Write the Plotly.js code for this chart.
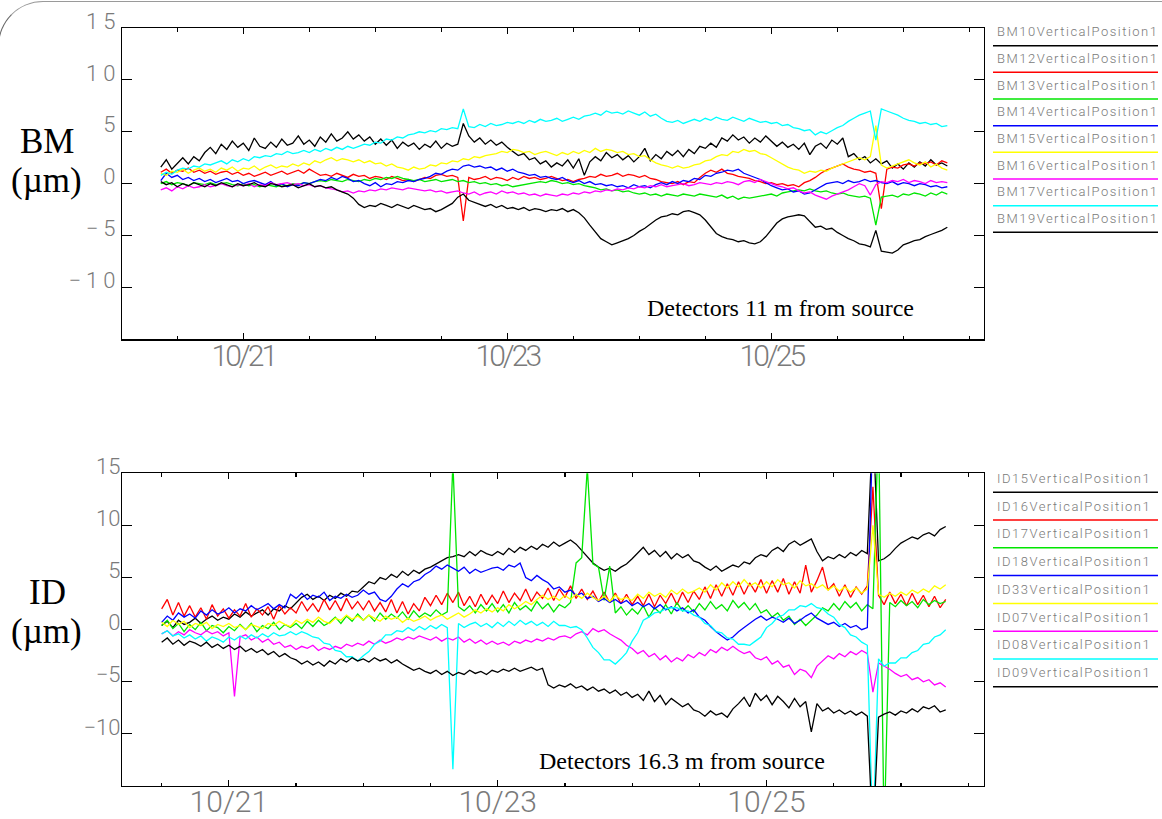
<!DOCTYPE html>
<html>
<head>
<meta charset="utf-8">
<script src="https://cdn.plot.ly/plotly-3.0.1.min.js"></script>
<style>
html,body{margin:0;padding:0;background:#fff;overflow:hidden;}
#chart{position:absolute;left:0;top:0;width:1162px;height:819px;}
#frame{position:absolute;left:-2px;top:1px;width:1400px;height:1200px;box-sizing:border-box;
  border-top:1.5px solid #9a9a9a;border-left:1.5px solid #666;border-top-left-radius:45px;pointer-events:none;}
.xtick text{letter-spacing:-3px;}
.ytick text{letter-spacing:5px;}
.annotation-text[style*="Roboto"]{letter-spacing:1.5px;fill:#7a7a7a !important;}
</style>
</head>
<body>
<div id="chart"></div>
<div id="frame"></div>
<script>
// ---------- sampling (hourly readings) ----------
const topStartUTC = Date.UTC(2023, 9, 20, 9, 0);   // 10/20 09:00
const botStartUTC = Date.UTC(2023, 9, 20, 12, 0);  // 10/20 12:00
const sampleStepMs = 3600000;

// ---------- upper panel: BM detectors (µm) ----------
const topNames = ['BM10VerticalPosition1','BM12VerticalPosition1','BM13VerticalPosition1','BM14VerticalPosition1',
                  'BM15VerticalPosition1','BM16VerticalPosition1','BM17VerticalPosition1','BM19VerticalPosition1'];
const topColors = ['#000000','#ff0000','#00e600','#0000ff','#ffff00','#ff00ff','#00ffff','#000000'];

const bm10 = [1.6,2.3,1.4,2.0,2.5,1.9,2.6,2.2,3.0,3.5,2.9,3.8,
 3.3,4.1,3.5,3.9,3.2,4.4,3.6,3.4,4.0,3.5,4.3,3.7,
 3.9,4.6,3.8,4.2,3.6,4.5,4.0,4.8,4.1,4.4,5.0,4.3,
 4.7,4.1,4.5,3.8,4.3,3.7,4.2,3.4,4.0,3.6,3.9,3.3,
 3.8,3.5,4.1,3.4,3.9,3.6,3.8,5.8,4.6,4.0,4.4,3.8,
 4.2,3.7,4.0,3.5,3.1,2.7,2.9,2.3,2.5,1.9,2.2,1.6,
 2.0,1.7,2.3,1.5,2.4,0.8,2.1,2.6,2.2,3.0,2.5,2.8,
 2.3,2.7,2.1,2.6,3.4,2.2,2.8,2.4,3.1,2.7,3.2,2.6,
 3.3,2.9,3.6,3.4,3.9,3.5,4.4,4.1,4.7,4.2,4.5,3.9,
 4.4,4.0,4.6,4.1,3.6,4.0,3.5,3.8,3.3,3.9,2.8,3.6,
 3.9,3.4,4.2,3.8,4.4,2.6,2.9,2.3,2.6,2.0,2.4,1.9,
 2.2,1.5,1.9,1.4,2.0,1.6,2.1,1.7,2.3,1.8,2.0,1.7];
const bm12 = [1.1,1.4,1.0,1.3,1.2,1.5,1.1,1.3,1.0,1.2,0.9,1.1,
 1.2,0.9,1.1,0.8,1.0,0.7,0.9,1.1,0.8,1.0,1.2,0.9,
 1.1,1.3,1.0,1.4,1.1,0.8,0.9,0.7,1.0,0.8,0.6,0.9,
 0.7,0.8,0.5,0.7,0.6,0.4,0.7,0.5,0.3,0.4,0.2,0.4,
 0.6,0.5,0.8,0.9,0.7,0.8,0.6,-3.6,0.6,0.4,0.5,0.7,
 0.4,0.6,0.5,0.3,0.6,0.4,0.7,0.5,0.6,0.4,0.5,0.7,
 0.5,0.3,0.4,0.2,0.4,0.5,0.7,0.6,0.9,0.7,0.8,1.0,
 0.7,0.9,0.8,0.6,0.8,0.5,0.4,0.2,0.1,0.0,0.2,-0.1,
 0.2,0.1,0.6,1.0,1.3,1.1,1.4,1.0,0.9,0.7,0.6,0.5,
 0.3,0.2,0.0,0.1,-0.1,0.0,-0.2,-0.1,-0.3,0.1,0.3,0.6,
 1.0,1.3,1.5,1.7,1.9,1.6,1.4,1.3,1.1,1.2,1.0,-2.4,
 1.4,1.6,1.5,1.8,1.9,1.7,2.0,1.9,2.1,1.8,2.2,2.0];
const bm13 = [0.0,0.2,-0.1,0.1,0.0,-0.2,0.1,0.0,-0.1,0.1,-0.1,0.0,
 0.1,-0.1,-0.2,0.0,-0.2,-0.1,-0.3,-0.1,-0.2,-0.3,-0.1,-0.2,
 0.0,-0.1,0.1,0.0,0.2,0.3,0.2,0.4,0.3,0.2,0.4,0.3,
 0.2,0.4,0.3,0.5,0.4,0.6,0.5,0.7,0.5,0.4,0.3,0.4,
 0.2,0.3,0.4,0.2,0.3,0.4,0.2,0.3,0.1,0.2,0.0,0.1,
 -0.1,0.0,-0.2,-0.1,-0.3,-0.2,-0.1,0.0,0.1,0.2,0.1,0.3,
 0.2,0.0,0.1,-0.1,0.0,-0.2,-0.3,-0.4,-0.6,-0.5,-0.7,-0.6,
 -0.8,-0.7,-0.9,-1.0,-0.9,-1.1,-1.0,-1.2,-1.0,-1.1,-1.2,-1.0,
 -1.1,-1.2,-1.0,-1.1,-1.2,-1.3,-1.1,-1.4,-1.2,-1.5,-1.3,-1.4,
 -1.3,-1.2,-1.1,-1.0,-1.2,-0.9,-0.8,-0.7,-0.6,-0.7,-0.5,-0.7,
 -0.8,-0.7,-0.9,-1.0,-0.9,-1.1,-1.2,-1.3,-1.2,-1.4,-4.0,-1.3,
 -1.2,-1.1,-1.3,-1.0,-1.1,-0.9,-1.0,-1.2,-0.9,-1.1,-0.8,-1.0];
const bm14 = [0.3,1.0,0.6,0.8,0.4,0.6,0.3,0.5,0.2,0.4,0.1,0.3,
 0.5,0.2,0.3,0.0,0.2,0.3,0.1,-0.1,0.2,-0.2,0.0,-0.3,
 -0.1,-0.2,0.1,0.0,0.2,0.4,0.3,0.6,0.4,0.7,0.5,0.2,
 0.3,0.0,-0.2,0.1,-0.3,0.0,-0.1,0.2,0.1,0.3,0.2,0.4,
 0.5,0.7,1.0,0.9,1.2,1.4,1.3,1.7,1.8,1.6,1.7,1.5,
 1.6,1.3,1.5,1.2,1.4,1.1,1.0,0.8,0.9,0.6,0.7,0.5,
 0.4,0.6,0.3,0.1,0.3,0.0,0.2,-0.1,0.0,-0.2,-0.1,-0.3,
 -0.2,-0.4,-0.1,-0.3,-0.2,-0.4,-0.1,0.1,-0.1,0.2,0.0,0.3,
 0.2,0.5,0.4,0.8,0.7,1.0,1.1,1.3,1.2,1.4,1.0,0.8,
 0.6,0.4,0.1,-0.2,-0.4,-0.6,-0.5,-0.8,-0.7,-1.0,-0.9,-0.6,
 -0.3,0.0,0.1,0.2,0.0,0.3,0.1,0.2,0.4,0.2,0.3,0.1,
 0.0,0.2,-0.1,0.1,0.0,-0.2,0.0,-0.1,-0.3,-0.2,-0.4,-0.3];
const bm15 = [1.0,0.8,1.2,1.1,1.4,1.0,1.3,1.5,1.2,1.4,1.1,1.5,
 1.3,1.6,1.2,1.5,1.4,1.7,1.3,1.6,1.8,1.5,1.7,1.6,
 1.9,1.7,2.0,1.8,2.2,2.0,2.3,2.5,2.2,2.4,2.3,2.1,
 2.3,2.0,2.2,1.9,2.0,1.7,1.9,1.6,1.5,1.3,1.6,1.4,
 1.5,1.8,1.7,2.0,1.9,2.2,2.1,2.4,2.3,2.6,2.5,2.7,
 2.8,2.9,3.1,3.0,3.3,3.2,3.0,3.1,2.8,3.0,3.1,2.9,
 2.7,3.0,2.8,3.1,2.9,3.2,3.0,3.4,3.1,3.3,3.2,3.0,
 3.1,2.8,2.9,2.6,2.7,2.3,2.0,1.8,1.7,1.5,1.7,1.5,
 1.6,1.8,1.9,2.2,2.3,2.6,2.8,2.7,3.1,3.0,3.3,3.1,
 3.2,2.9,2.8,2.5,2.2,1.9,1.6,1.4,1.3,1.0,1.2,1.1,
 1.3,1.2,1.5,1.7,1.9,2.1,2.3,2.5,2.3,2.6,5.6,1.8,
 1.5,1.7,1.9,2.1,2.3,2.0,1.8,2.1,1.6,1.9,1.5,1.3];
const bm16 = [-0.6,-0.4,-0.7,-0.3,-0.5,-0.2,-0.4,-0.3,-0.1,-0.3,-0.2,0.0,
 -0.2,-0.3,-0.1,-0.2,0.0,-0.3,-0.1,-0.2,0.1,-0.1,0.0,0.1,
 -0.1,0.0,-0.2,-0.1,-0.3,-0.2,-0.4,-0.5,-0.6,-0.8,-0.7,-0.9,
 -0.7,-0.8,-0.6,-0.7,-0.5,-0.6,-0.4,-0.5,-0.6,-0.4,-0.5,-0.6,
 -0.7,-0.6,-0.8,-0.7,-0.9,-0.8,-0.7,-0.9,-1.0,-0.8,-1.1,-0.9,
 -0.8,-1.0,-0.7,-0.9,-0.8,-1.0,-0.9,-1.1,-1.0,-1.2,-1.0,-1.1,
 -1.2,-1.0,-1.1,-0.9,-1.0,-0.8,-0.9,-0.7,-0.8,-0.6,-0.7,-0.5,
 -0.6,-0.4,-0.5,-0.3,-0.4,-0.2,-0.3,-0.1,-0.3,-0.2,-0.1,0.0,
 -0.2,-0.1,0.1,0.0,-0.1,0.1,0.0,0.2,0.1,-0.1,0.2,0.3,
 0.1,0.4,0.2,0.0,-0.2,-0.3,-0.5,-0.4,-0.7,-0.9,-0.8,-1.1,
 -1.3,-1.5,-1.2,-1.0,-0.8,-0.6,-0.3,0.0,-0.2,-1.1,-0.1,0.2,
 0.1,0.3,0.2,0.4,0.1,0.3,0.2,0.0,0.3,0.1,0.2,0.1];
const bm17 = [0.8,1.1,0.9,1.3,1.5,1.4,1.7,1.6,1.9,1.8,2.0,2.2,
 1.9,2.3,2.1,2.4,2.2,2.6,2.5,2.7,2.6,2.9,2.8,3.1,
 2.9,3.0,3.2,3.0,3.3,3.1,3.4,3.2,3.5,3.3,3.6,3.4,
 3.6,3.8,3.7,4.0,3.9,4.3,4.2,4.5,4.4,4.7,4.8,5.0,
 4.9,5.1,5.0,5.3,5.2,5.4,5.3,7.2,5.5,5.4,5.7,5.5,
 5.8,5.6,5.7,5.9,5.8,6.0,5.8,6.1,5.9,6.2,6.0,6.1,
 6.3,6.0,6.2,6.4,6.2,6.5,6.6,6.8,6.6,7.0,6.8,6.9,
 6.7,7.0,6.8,6.6,6.9,6.5,6.7,6.3,6.0,5.9,6.1,5.8,
 6.0,6.2,6.0,6.3,6.1,6.4,6.2,6.1,6.4,6.2,6.0,6.3,
 6.1,5.9,6.0,5.8,5.9,5.6,5.7,5.4,5.3,5.1,5.2,4.7,
 5.0,4.8,5.1,5.4,5.6,6.0,6.3,6.6,6.8,7.0,4.2,7.2,
 7.0,6.8,6.6,6.3,6.1,6.0,5.8,5.9,5.7,5.8,5.5,5.6];
const bm19 = [0.2,-0.1,0.1,-0.3,0.0,-0.2,0.1,-0.1,-0.3,0.0,-0.2,0.1,
 -0.1,-0.3,0.0,-0.2,-0.1,0.1,-0.2,-0.3,0.0,-0.1,-0.3,-0.2,
 -0.1,-0.4,-0.2,0.0,-0.3,-0.2,-0.4,-0.3,-0.6,-0.8,-1.0,-1.4,
 -2.0,-2.3,-2.1,-2.2,-1.9,-2.1,-2.3,-2.0,-2.2,-2.4,-2.1,-2.3,
 -2.5,-2.4,-2.7,-2.5,-2.2,-1.9,-1.3,-1.0,-1.6,-1.8,-2.0,-2.2,
 -2.0,-2.3,-2.1,-2.4,-2.3,-2.5,-2.3,-2.6,-2.4,-2.5,-2.7,-2.5,
 -2.6,-2.4,-2.7,-2.5,-2.8,-3.3,-4.0,-4.7,-5.3,-5.6,-5.9,-5.7,
 -5.5,-5.3,-5.0,-4.6,-4.3,-3.9,-3.5,-3.2,-3.1,-2.9,-3.0,-2.7,
 -2.6,-2.8,-3.0,-3.5,-4.2,-4.8,-5.1,-5.3,-5.4,-5.6,-5.5,-5.7,
 -5.8,-5.6,-5.1,-4.4,-3.8,-3.4,-3.2,-3.1,-3.0,-3.1,-3.7,-4.2,
 -4.1,-4.4,-4.3,-4.7,-5.0,-5.3,-5.5,-5.8,-5.9,-6.1,-4.5,-6.5,
 -6.6,-6.7,-6.4,-5.9,-5.7,-5.5,-5.4,-5.1,-4.9,-4.7,-4.5,-4.2];
const topSeries = [bm10, bm12, bm13, bm14, bm15, bm16, bm17, bm19];

// ---------- lower panel: ID detectors (µm) ----------
const botNames = ['ID15VerticalPosition1','ID16VerticalPosition1','ID17VerticalPosition1','ID18VerticalPosition1',
                  'ID33VerticalPosition1','ID07VerticalPosition1','ID08VerticalPosition1','ID09VerticalPosition1'];
const botColors = ['#000000','#ff0000','#00e600','#0000ff','#ffff00','#ff00ff','#00ffff','#000000'];

const id15 = [0.4,0.8,0.2,0.9,0.5,0.7,1.1,0.6,1.0,1.3,0.9,1.2,
 1.0,1.5,1.2,1.7,1.3,1.6,1.9,1.4,2.0,1.8,2.3,2.0,
 2.6,3.1,3.4,2.9,3.2,2.8,3.3,3.0,3.5,3.2,3.7,3.6,
 4.1,4.6,4.4,5.0,4.8,5.3,5.0,5.6,5.2,5.7,5.4,5.8,
 6.0,6.3,6.6,6.9,7.0,7.2,7.0,7.5,7.1,7.6,7.3,7.1,
 7.5,7.2,7.8,7.4,7.9,7.6,8.0,7.7,8.2,7.9,8.4,8.0,
 8.3,8.6,8.2,7.6,7.0,6.4,6.0,5.7,5.9,5.6,6.0,6.3,
 6.8,7.4,7.9,7.2,7.6,7.0,7.5,6.8,7.3,6.9,7.2,6.6,
 6.4,6.0,5.7,6.1,5.6,5.9,6.2,6.0,6.5,6.3,6.9,7.2,
 7.0,7.6,7.9,7.5,8.2,8.5,8.1,8.4,8.7,7.5,6.6,7.0,
 6.8,7.2,6.9,7.4,7.1,7.6,7.3,20,6.6,6.8,7.2,7.8,
 8.3,8.6,8.9,8.7,9.1,9.3,9.0,9.6,9.9];
const id16 = [2.0,2.9,1.4,2.6,1.3,2.3,1.2,2.1,1.0,2.4,1.3,2.0,
 1.1,1.9,1.3,2.5,1.2,2.0,1.4,2.2,1.0,2.3,1.5,2.1,
 1.6,2.7,1.8,2.5,1.7,2.9,1.9,2.8,1.8,3.0,2.0,2.7,
 1.9,2.8,1.8,2.6,1.7,2.9,1.6,2.7,1.5,2.5,1.8,3.1,
 2.3,3.3,2.4,3.5,2.6,3.6,2.3,3.2,2.2,3.4,2.4,3.3,
 2.5,3.7,2.6,3.5,2.8,3.9,2.7,3.6,3.0,4.0,2.8,3.9,
 3.1,4.2,3.0,3.9,2.9,3.7,2.7,3.6,2.6,3.5,2.5,3.4,
 2.4,3.2,2.3,3.4,2.2,3.3,2.5,3.5,2.4,3.6,2.6,3.7,
 2.9,4.1,3.0,4.3,3.2,4.4,3.3,4.6,3.4,4.5,3.6,4.8,
 3.5,4.7,3.6,4.9,3.4,4.6,3.5,6.2,3.6,4.7,6.0,3.8,
 4.4,3.2,4.3,3.1,4.1,3.4,4.2,13.7,3.3,2.4,3.6,2.5,
 3.4,2.3,3.5,2.4,3.3,2.2,3.2,2.1,2.9];
const id17 = [0.4,0.9,0.1,0.6,-0.2,0.5,0.0,0.7,-0.1,0.4,0.2,-0.3,
 0.3,-0.1,0.5,0.0,0.6,-0.2,0.4,0.1,0.7,0.0,0.5,0.2,
 0.6,0.1,0.8,0.3,0.9,0.4,0.7,1.2,0.6,1.3,0.8,1.5,
 0.9,1.4,0.8,1.6,1.0,1.5,1.1,1.7,1.0,1.8,1.2,1.6,
 1.3,1.9,1.4,1.7,16.0,2.2,1.8,2.3,1.6,2.4,1.8,2.5,
 1.7,2.4,1.6,2.6,1.9,2.3,1.8,2.7,2.0,2.5,1.7,2.4,
 2.1,2.6,6.4,6.9,15.5,6.3,6.0,2.8,6.1,1.6,2.2,1.4,
 2.0,1.5,2.3,1.2,2.1,1.6,2.4,1.5,2.6,1.8,2.3,1.7,
 2.5,1.9,2.7,2.0,2.4,1.8,2.8,2.1,2.6,1.9,2.5,1.6,
 1.9,1.2,1.6,0.9,1.3,0.5,1.0,0.4,0.9,1.4,2.1,1.8,
 2.5,1.9,2.7,2.1,2.6,1.8,2.4,2.0,20,-20,2.6,2.2,
 2.8,2.3,2.7,2.1,2.9,2.4,2.8,2.5,2.7];
const id18 = [0.7,1.3,0.9,1.6,1.2,1.5,1.1,1.8,1.4,1.9,1.5,1.7,
 2.1,1.6,2.0,1.8,2.3,1.9,2.2,2.5,2.0,2.4,2.1,3.4,
 3.0,3.5,2.9,3.3,3.1,3.6,2.8,3.2,3.0,3.4,3.1,3.3,
 3.8,3.4,3.6,2.9,2.7,3.2,3.9,4.4,4.1,4.6,4.8,5.3,
 5.6,6.1,5.8,6.2,5.9,5.6,6.0,5.4,5.8,5.5,5.7,5.9,
 6.0,5.7,6.2,6.0,6.4,5.0,4.7,5.2,4.8,4.5,3.9,4.1,
 3.6,3.8,3.3,3.5,3.0,3.2,2.7,3.0,2.6,2.9,2.5,2.8,
 2.3,2.6,2.2,2.5,2.0,2.4,1.9,2.2,1.8,2.1,1.6,1.9,
 1.2,0.9,0.3,-0.2,-0.6,-1.0,-0.7,-0.2,0.2,0.6,1.0,1.3,
 0.9,1.2,1.0,0.7,1.1,0.6,0.9,1.3,1.6,1.1,0.8,0.5,
 0.7,0.3,0.6,0.2,0.4,0.0,0.2,20];
const id33 = [0.7,0.3,0.9,0.5,0.8,0.2,0.6,0.4,0.7,0.1,0.5,0.3,
 0.6,0.2,0.4,0.0,0.5,0.3,0.1,0.6,0.4,0.8,0.5,0.3,
 0.9,0.6,1.0,0.7,1.2,0.8,0.6,1.1,0.9,1.4,1.0,1.3,
 0.9,1.4,1.1,0.8,1.3,1.0,1.2,0.7,1.1,0.8,1.0,1.3,
 0.9,1.2,1.4,1.0,1.3,1.6,1.2,1.5,1.9,1.6,2.0,1.7,
 2.1,1.8,2.4,2.0,2.3,2.7,2.4,2.9,3.3,2.9,3.2,2.8,
 3.3,2.9,3.4,3.0,3.5,3.1,2.8,3.2,2.7,3.3,2.9,3.1,
 2.8,3.4,3.0,3.6,3.2,3.5,3.1,3.8,3.4,3.9,3.5,3.7,
 4.0,3.6,4.3,3.8,4.5,4.0,4.6,4.1,4.8,4.2,4.5,4.0,
 4.6,4.1,4.8,4.3,4.5,4.0,4.7,4.2,4.4,4.0,4.3,3.8,
 4.2,3.7,4.1,3.6,4.0,3.5,3.9,10.0,3.4,3.1,3.5,3.2,
 3.6,3.3,3.8,3.5,3.9,3.6,4.2,3.9,4.3];
const id07 = [-0.4,-0.1,-0.6,-0.2,-0.5,0.0,-0.3,-0.5,-0.1,-0.4,-0.2,-0.6,
 -0.3,-6.4,-0.7,-0.5,-1.0,-0.7,-1.2,-0.9,-1.4,-1.2,-1.7,-1.5,
 -1.9,-1.6,-1.8,-1.5,-2.0,-1.7,-1.9,-1.6,-1.8,-1.4,-1.6,-1.3,
 -1.5,-1.1,-1.4,-1.0,-1.3,-1.1,-0.8,-1.0,-0.7,-0.9,-0.6,-0.8,
 -1.0,-0.7,-1.1,-0.8,-1.0,-0.7,-1.2,-0.9,-1.3,-1.0,-1.4,-1.1,
 -1.4,-1.2,-1.5,-1.1,-1.3,-1.0,-1.2,-0.9,-1.1,-0.8,-1.0,-0.7,
 -0.6,-0.8,-0.4,-0.2,-0.5,0.1,-0.2,0.0,-0.4,-0.7,-1.0,-1.5,
 -1.8,-2.3,-2.0,-2.6,-2.3,-2.9,-2.5,-3.1,-2.7,-3.0,-2.4,-2.7,
 -2.2,-2.5,-1.9,-2.2,-1.7,-2.0,-1.6,-2.0,-2.3,-2.1,-2.7,-2.9,
 -2.6,-3.3,-3.0,-3.6,-3.4,-4.3,-3.8,-4.0,-4.6,-3.5,-3.0,-2.5,
 -2.8,-2.3,-2.6,-2.1,-2.4,-2.0,-2.3,-6.0,-3.2,-3.5,-3.8,-4.2,
 -4.5,-4.3,-4.8,-4.6,-5.0,-4.8,-5.3,-5.1,-5.5];
const id08 = [-0.4,-0.1,-0.6,-0.4,-0.8,-0.5,-0.9,-0.6,-1.1,-0.7,-0.9,-1.2,
 -0.7,-1.0,-0.6,-0.9,-0.5,-0.8,-0.4,-0.7,-0.3,-0.6,-0.5,-0.2,
 -0.5,-0.2,-0.4,-0.7,-0.8,-1.3,-1.4,-2.0,-2.1,-2.6,-2.6,-3.0,
 -2.5,-2.1,-1.4,-1.1,-0.5,-0.5,-0.1,-0.2,0.2,-0.1,0.3,0.0,
 0.4,0.1,0.5,0.2,-13.4,0.6,0.2,0.5,0.7,0.3,0.6,0.2,
 0.7,0.3,0.8,0.4,0.9,0.5,0.8,0.4,0.7,0.3,0.8,0.4,
 0.4,0.2,0.3,0.0,-0.8,-1.7,-2.2,-2.9,-2.9,-3.3,-2.8,-2.2,
 -1.1,-0.3,0.9,1.2,1.6,1.7,2.0,2.1,2.1,1.8,1.8,1.4,
 1.2,0.6,0.4,-0.2,-0.3,-0.8,-0.9,-1.4,-1.4,-1.5,-1.1,-0.7,
 0.2,0.6,1.2,1.4,1.9,1.9,2.3,2.2,2.5,2.1,2.0,1.5,
 1.2,0.5,0.2,-0.5,-0.7,-1.2,-1.5,-20,-2.8,-3.5,-3.2,-3.2,
 -2.7,-2.7,-2.2,-2.0,-1.4,-1.3,-0.7,-0.5,0.0];
const id09 = [-1.2,-0.8,-1.4,-1.0,-1.5,-1.1,-1.3,-1.6,-1.2,-1.7,-1.4,-1.8,
 -1.5,-1.9,-1.6,-2.1,-1.8,-2.2,-1.9,-2.4,-2.1,-2.6,-2.3,-2.7,
 -2.9,-3.3,-3.0,-3.4,-3.1,-3.5,-3.0,-3.3,-2.8,-3.1,-2.7,-3.0,
 -2.8,-3.1,-2.7,-3.0,-2.8,-3.2,-2.9,-3.3,-3.6,-3.9,-3.7,-4.0,
 -4.2,-3.9,-4.3,-4.0,-4.4,-4.1,-4.3,-3.9,-4.2,-4.0,-4.3,-3.9,
 -4.1,-3.8,-4.0,-3.7,-4.0,-3.8,-3.6,-3.9,-3.7,-5.3,-5.6,-5.3,
 -5.5,-5.2,-5.6,-5.4,-5.8,-5.5,-5.9,-5.7,-6.1,-5.8,-6.3,-6.0,
 -6.5,-6.2,-6.8,-5.9,-6.9,-6.3,-7.2,-6.6,-7.0,-7.4,-7.1,-7.7,
 -7.9,-8.3,-7.8,-8.2,-8.0,-8.4,-7.6,-7.1,-6.5,-7.4,-6.1,-6.8,
 -6.3,-7.2,-6.4,-6.9,-7.5,-6.6,-7.4,-6.9,-9.8,-7.1,-7.8,-7.5,
 -8.0,-7.7,-8.1,-7.8,-8.2,-7.9,-8.3,-20,-8.4,-8.1,-7.9,-8.2,
 -7.8,-8.0,-7.6,-7.9,-7.4,-7.6,-7.3,-7.9,-7.7];
const botSeries = [id15, id16, id17, id18, id33, id07, id08, id09];

// ---------- axes / labels ----------
const yTickVals = [-10, -5, 0, 5, 10, 15];
const topTitle = ['BM', '(µm)'];
const botTitle = ['ID', '(µm)'];
const topNote = 'Detectors 11 m from source';
const botNote = 'Detectors 16.3 m from source';
const topXRange = ['2023-10-20 01:57', '2023-10-26 14:40'];
const botXRange = ['2023-10-20 04:55', '2023-10-26 14:50'];

// ---------- build ----------
function timeAxis(startUTC, n) {
  const out = [];
  for (let i = 0; i < n; i++) out.push(new Date(startUTC + i * sampleStepMs).toISOString().slice(0, 19).replace('T', ' '));
  return out;
}
const traces = [];
topSeries.forEach((s, k) => traces.push({type: 'scatter', mode: 'lines', x: timeAxis(topStartUTC, s.length), y: s,
  name: topNames[k], line: {color: topColors[k], width: 1.3}, xaxis: 'x', yaxis: 'y'}));
botSeries.forEach((s, k) => traces.push({type: 'scatter', mode: 'lines', x: timeAxis(botStartUTC, s.length), y: s,
  name: botNames[k], line: {color: botColors[k], width: 1.3}, xaxis: 'x2', yaxis: 'y2'}));

const M = {l: 122, r: 178, t: 28, b: 33};
const W = 1162 - M.l - M.r, H = 819 - M.t - M.b;
const px = x => (x - M.l) / W;
const py = y => (819 - M.b - y) / H;

const tickFontX = {family: 'Roboto, "Open Sans", sans-serif', size: 30, color: '#7a7a7a', weight: 300};
const tickFontY = {family: 'Roboto, "Open Sans", sans-serif', size: 22, color: '#7a7a7a', weight: 300};
const xCommon = {type: 'date', showline: true, linecolor: '#000', linewidth: 1.2, mirror: 'ticks', showgrid: false,
  zeroline: false, ticks: 'inside', ticklen: 6, tickwidth: 1.2, tickcolor: '#000', tick0: '2023-10-21',
  dtick: 172800000, tickformat: '%m/%d', tickfont: tickFontX, ticklabelstandoff: -11,
  minor: {ticks: 'inside', dtick: 43200000, ticklen: 3.5, tickwidth: 1.2, tickcolor: '#000', showgrid: false}};
const yCommon = {showline: true, linecolor: '#000', linewidth: 1.2, mirror: 'ticks', showgrid: false, zeroline: false,
  ticks: 'inside', ticklen: 10, tickwidth: 1.2, tickcolor: '#000', range: [-15, 15], tickmode: 'array',
  tickvals: yTickVals, tickfont: tickFontY, ticklabelshift: -7, ticklabelstandoff: -4};

const annotations = [];
const shapes = [];
const titleFont = {family: '"Liberation Serif", "Times New Roman", serif', size: 35, color: '#000'};
const noteFont = {family: '"Liberation Serif", "Times New Roman", serif', size: 24, color: '#000'};
function addTitle(lines, yFirst, ySecond) {
  annotations.push({text: lines[0], x: px(47), y: py(yFirst), xref: 'paper', yref: 'paper', showarrow: false, font: titleFont, xanchor: 'center', yanchor: 'middle'});
  annotations.push({text: lines[1], x: px(46), y: py(ySecond), xref: 'paper', yref: 'paper', showarrow: false, font: titleFont, xanchor: 'center', yanchor: 'middle'});
}
addTitle(topTitle, 141.5, 180.5);
addTitle(botTitle, 592.5, 631.5);
annotations.push({text: topNote, x: px(645), y: py(308), xref: 'paper', yref: 'paper', showarrow: false, font: noteFont, xanchor: 'left', yanchor: 'middle'});
annotations.push({text: botNote, x: px(537), y: py(761), xref: 'paper', yref: 'paper', showarrow: false, font: noteFont, xanchor: 'left', yanchor: 'middle'});

const legFont = {family: 'Roboto, "Open Sans", sans-serif', size: 13, color: '#7a7a7a', weight: 300};
function addLegend(names, colors, textTop, lineTop, step) {
  names.forEach((nm, k) => {
    annotations.push({text: nm, x: px(995), y: py(textTop + k * step), xref: 'paper', yref: 'paper', showarrow: false,
      font: legFont, xanchor: 'left', yanchor: 'middle'});
    shapes.push({type: 'line', xref: 'paper', yref: 'paper', x0: px(993), x1: px(1158),
      y0: py(lineTop + k * step), y1: py(lineTop + k * step), line: {color: colors[k], width: 1.5}});
  });
}
addLegend(topNames, topColors, 31.7, 45.7, 26.66);
addLegend(botNames, botColors, 478.3, 492.3, 27.77);

const layout = {
  width: 1162, height: 819, margin: M, paper_bgcolor: '#fff', plot_bgcolor: '#fff', showlegend: false,
  xaxis: Object.assign({}, xCommon, {range: topXRange, anchor: 'y'}),
  yaxis: Object.assign({}, yCommon, {domain: [py(339.3), 1], anchor: 'x'}),
  xaxis2: Object.assign({}, xCommon, {range: botXRange, anchor: 'y2'}),
  yaxis2: Object.assign({}, yCommon, {domain: [0, py(473.3)], anchor: 'x2'}),
  annotations: annotations, shapes: shapes
};
Plotly.newPlot('chart', traces, layout, {staticPlot: true, displayModeBar: false});
</script>
</body>
</html>
